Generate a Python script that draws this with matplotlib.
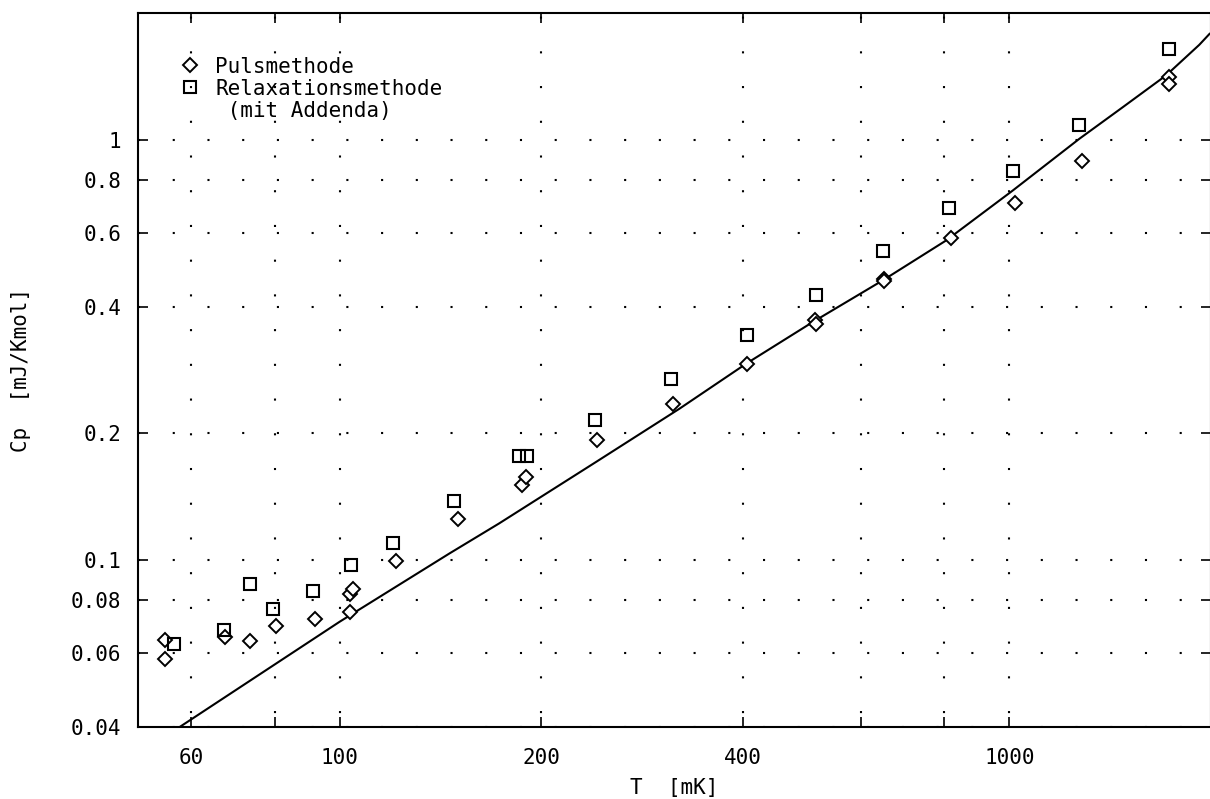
import matplotlib
matplotlib.use("Agg")
import matplotlib.pyplot as plt
from matplotlib.ticker import FixedLocator, FixedFormatter, NullLocator
from matplotlib.lines import Line2D

# data (T in mK, Cp in mJ/K mol)
puls_T = [54.9, 54.9, 67.4, 73.4, 80.3, 91.8, 103.5, 103.5, 104.7, 121.5, 150.2,
          187.4, 190.0, 242.4, 314.5, 406, 513, 515, 649, 650, 818, 1020, 1284,
          1733, 1733]
puls_cp = [0.0644, 0.0582, 0.0654, 0.0641, 0.0696, 0.0722, 0.0753, 0.0827, 0.0850,
           0.0992, 0.1249, 0.151, 0.157, 0.193, 0.2344, 0.293, 0.371, 0.364, 0.465,
           0.460, 0.5825, 0.707, 0.891, 1.412, 1.356]

relax_T = [56.5, 67.2, 73.4, 79.5, 91.2, 104.1, 120.1, 148.1, 185.2, 190.6, 241,
           312, 406, 514.5, 648.6, 813.6, 1011.6, 1272, 1733]
relax_cp = [0.0630, 0.0680, 0.0875, 0.0763, 0.0842, 0.0974, 0.1097, 0.1378, 0.1766,
            0.1766, 0.2147, 0.2688, 0.342, 0.4256, 0.5428, 0.6865, 0.8409, 1.084,
            1.643]

curve_T = [57.7, 100, 146, 173, 241.6, 321.8, 404.6, 508.6, 647.1, 804.5, 1011.6,
           1272, 1476, 1713, 1921, 1990]
curve_cp = [0.040, 0.0712, 0.1036, 0.122, 0.171, 0.2289, 0.2928, 0.3678, 0.4622,
            0.5751, 0.7561, 1.004, 1.193, 1.420, 1.680, 1.784]

x_ticks = [60, 80, 100, 200, 400, 600, 800, 1000]
x_labels = ["60", "", "100", "200", "400", "", "", "1000"]
y_ticks = [0.04, 0.06, 0.08, 0.1, 0.2, 0.4, 0.6, 0.8, 1]
y_labels = ["0.04", "0.06", "0.08", "0.1", "0.2", "0.4", "0.6", "0.8", "1"]

plt.rcParams["font.family"] = ["DejaVu Sans Mono", "DejaVu Sans"]
plt.rcParams["lines.scale_dashes"] = False
FS = 15

fig = plt.figure(figsize=(12.1, 7.99), dpi=100)
ax = fig.add_axes([138 / 1210, 72 / 799, 1073 / 1210, 714 / 799])
ax.set_xscale("log")
ax.set_yscale("log")
ax.set_xlim(50, 2000)
ax.set_ylim(0.04, 2.0)

ax.plot(curve_T, curve_cp, color="black", lw=1.5, zorder=3)
ax.plot(puls_T, puls_cp, linestyle="none", marker="D", ms=7.2, mfc="white",
        mec="black", mew=1.4, zorder=4)
ax.plot(relax_T, relax_cp, linestyle="none", marker="s", ms=8.5, mfc="none",
        mec="black", mew=1.5, zorder=4)

ax.xaxis.set_major_locator(FixedLocator(x_ticks))
ax.xaxis.set_major_formatter(FixedFormatter(x_labels))
ax.xaxis.set_minor_locator(NullLocator())
ax.yaxis.set_major_locator(FixedLocator(y_ticks))
ax.yaxis.set_major_formatter(FixedFormatter(y_labels))
ax.yaxis.set_minor_locator(NullLocator())

ax.tick_params(which="major", direction="in", length=7, width=1.2,
               top=True, right=True, labelsize=FS, color="black")
ax.tick_params(axis="x", pad=15)
ax.tick_params(axis="y", pad=12)

# dotted plotter-style grid
ax.xaxis.grid(True, linestyle=(15.0, (1.5, 23.5)), color="black", lw=1.5)
ax.yaxis.grid(True, linestyle=(0, (1.5, 23.5)), color="black", lw=1.5)
ax.set_axisbelow(True)

for sp in ax.spines.values():
    sp.set_linewidth(1.5)

ax.set_xlabel("T  [mK]", fontsize=FS)
ax.xaxis.set_label_coords(0.5, -0.072)
ax.set_ylabel("Cp  [mJ/Kmol]", fontsize=FS)
ax.yaxis.set_label_coords(-0.1, 0.5)

handles = [
    Line2D([], [], linestyle="none", marker="D", ms=7.2, mfc="white", mec="black", mew=1.4),
    Line2D([], [], linestyle="none", marker="s", ms=8.5, mfc="none", mec="black", mew=1.5),
    Line2D([], [], linestyle="none", marker=None),
]
ax.legend(handles, ["Pulsmethode", "Relaxationsmethode", " (mit Addenda)"],
          loc="upper left", bbox_to_anchor=(0.0407, 0.939), borderaxespad=0,
          borderpad=0, frameon=False, fontsize=FS, handlelength=0.8,
          handletextpad=0.8, labelspacing=0.1)

fig.savefig("out.png", dpi=100)
